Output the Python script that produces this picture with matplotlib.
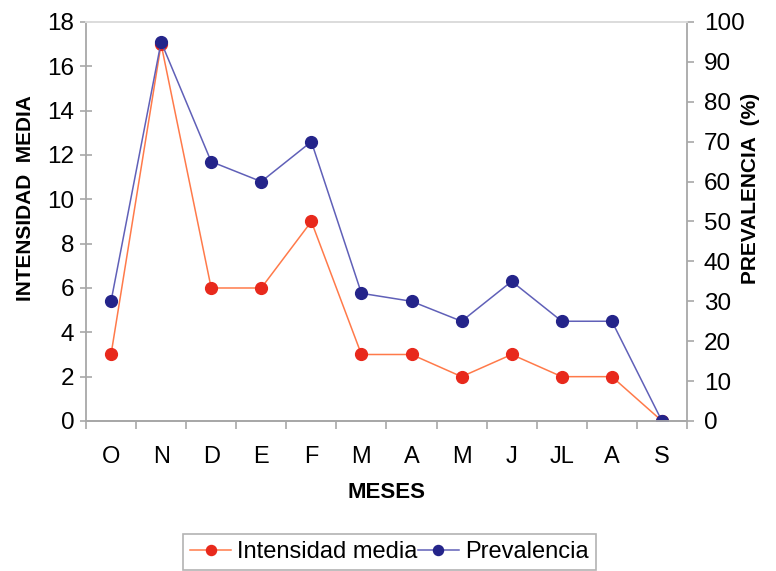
import matplotlib
matplotlib.use("Agg")
import matplotlib.pyplot as plt
import numpy as np

plt.rcParams['font.family'] = ['Liberation Sans', 'DejaVu Sans']

meses = ["O", "N", "D", "E", "F", "M", "A", "M", "J", "JL", "A", "S"]
intensidad_media = [3, 17, 6, 6, 9, 3, 3, 2, 3, 2, 2, 0]
prevalencia = [30, 95, 65, 60, 70, 32, 30, 25, 35, 25, 25, 0]

fig = plt.figure(figsize=(7.76, 5.71), dpi=100)
ax = fig.add_axes([0.1108, 0.2627, 0.7745, 0.6988])
ax2 = ax.twinx()

x = np.arange(len(meses))
spine_col = "#a8a8a8"

l1, = ax.plot(x, intensidad_media, color="#ff7a4a", lw=1.1, marker="o",
              ms=8.5, mfc="#e8291c", mec="#e8291c", label="Intensidad media")
l2, = ax2.plot(x, prevalencia, color="#6060b8", lw=1.1, marker="o",
               ms=8.5, mfc="#24248a", mec="#24248a", label="Prevalencia")

ax.set_xlim(-0.5, len(meses) - 0.5)
ax.set_ylim(0, 18)
ax2.set_ylim(0, 100)
ax.set_yticks(np.arange(0, 19, 2))
ax2.set_yticks(np.arange(0, 101, 10))

ax.set_xticks(x)
ax.set_xticklabels(meses)
ax.set_xticks(np.arange(-0.5, len(meses), 1.0), minor=True)
ax.tick_params(axis="x", which="major", length=0, pad=18, labelsize=17)
ax.tick_params(axis="x", which="minor", length=6, width=1.2, color=spine_col, direction="out")
ax.tick_params(axis="y", length=9, width=1.2, color=spine_col, direction="inout",
               labelsize=17.5, pad=4)
ax2.tick_params(axis="y", length=5, width=1.2, color=spine_col, direction="out",
                labelsize=17.5, pad=7)

for a in (ax, ax2):
    for s in a.spines.values():
        s.set_color(spine_col)
        s.set_linewidth(1.3)
    a.spines["top"].set_color("#dcdcdc")
ax.spines["right"].set_visible(False)
ax2.spines["left"].set_visible(False)

ax.set_xlabel("MESES", fontsize=16, fontweight="bold")
ax.xaxis.set_label_coords(0.5, -0.152)
ax.set_ylabel("INTENSIDAD  MEDIA", fontsize=15, fontweight="bold")
ax.yaxis.set_label_coords(-0.085, 0.559)
ax2.set_ylabel("PREVALENCIA  (%)", fontsize=15, fontweight="bold")
ax2.yaxis.set_label_coords(1.09, 0.584)

leg = fig.legend(handles=[l1, l2], loc="upper left", bbox_to_anchor=(0.2358, 0.0648),
                 ncol=2, frameon=True, fancybox=False, fontsize=17,
                 handlelength=1.75, handletextpad=0.25, columnspacing=0.0,
                 borderpad=0.3, borderaxespad=0.0, markerscale=0.85)
leg.get_frame().set_edgecolor("#a0a0a0")
leg.get_frame().set_linewidth(1.2)

fig.savefig("out.png", dpi=100)
